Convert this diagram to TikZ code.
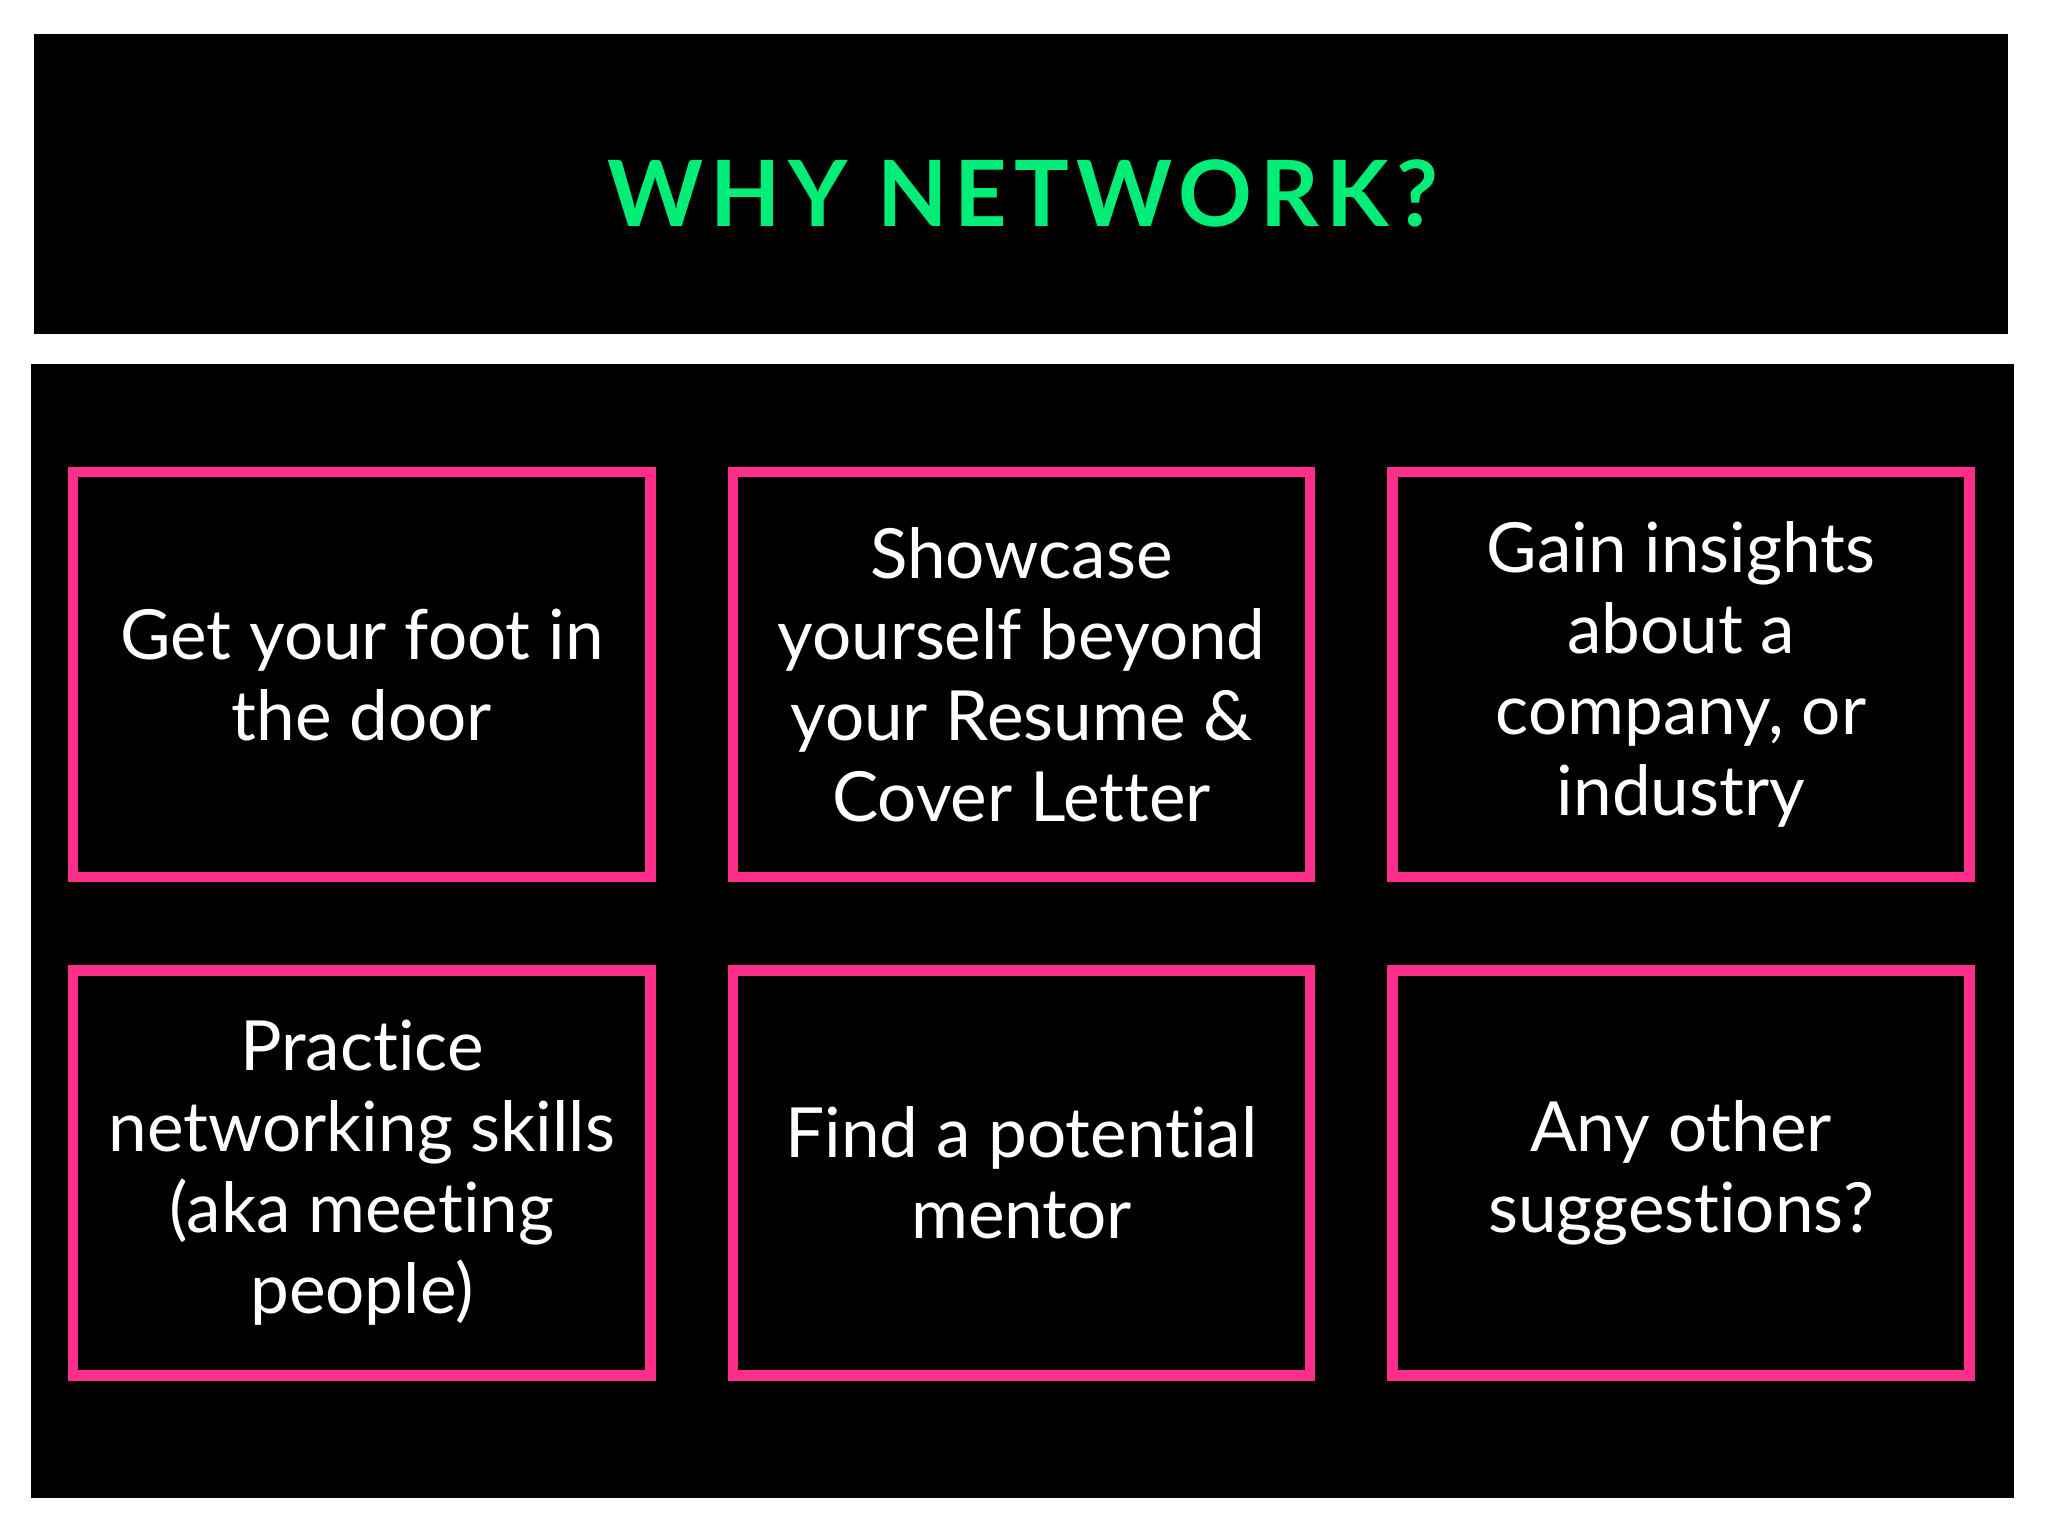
\documentclass[tikz,border=0pt]{standalone}
\usepackage{fontspec}
\setmainfont{Lato}[Ligatures={NoCommon}]
\definecolor{pinkc}{HTML}{FF2E8A}
\definecolor{greenc}{HTML}{00EE77}
\begin{document}
\begin{tikzpicture}[x=0.5pt,y=-0.5pt,
  card/.style={draw=pinkc,line width=4pt,minimum width=221pt,minimum height=155pt,align=center,text=white,font=\fontsize{26.5}{31}\selectfont,inner sep=0pt}]
\useasboundingbox[fill=white] (0,0) rectangle (1568,1176);
\fill[black] (26,26) rectangle (1537,256);
\fill[black] (24,279) rectangle (1542,1147);
\node[text=greenc,font=\fontsize{35}{40}\bfseries\addfontfeature{LetterSpace=8}\selectfont] (title) at (783,148) {WHY NETWORK?};
\node[card] (a) at (277,516.5) {Get your foot in\\the door};
\node[card] (b) at (782,516.5) {Showcase\\yourself beyond\\your Resume \&\\Cover Letter};
\node[card] (c) at (1287,516.5) {Gain insights\\about a\\company, or\\industry};
\node[card] (d) at (277,898) {Practice\\networking skills\\(aka meeting\\people)};
\node[card] (e) at (782,898) {Find a potential\\mentor};
\node[card] (f) at (1287,898) {Any other\\suggestions?};
\end{tikzpicture}
\end{document}
